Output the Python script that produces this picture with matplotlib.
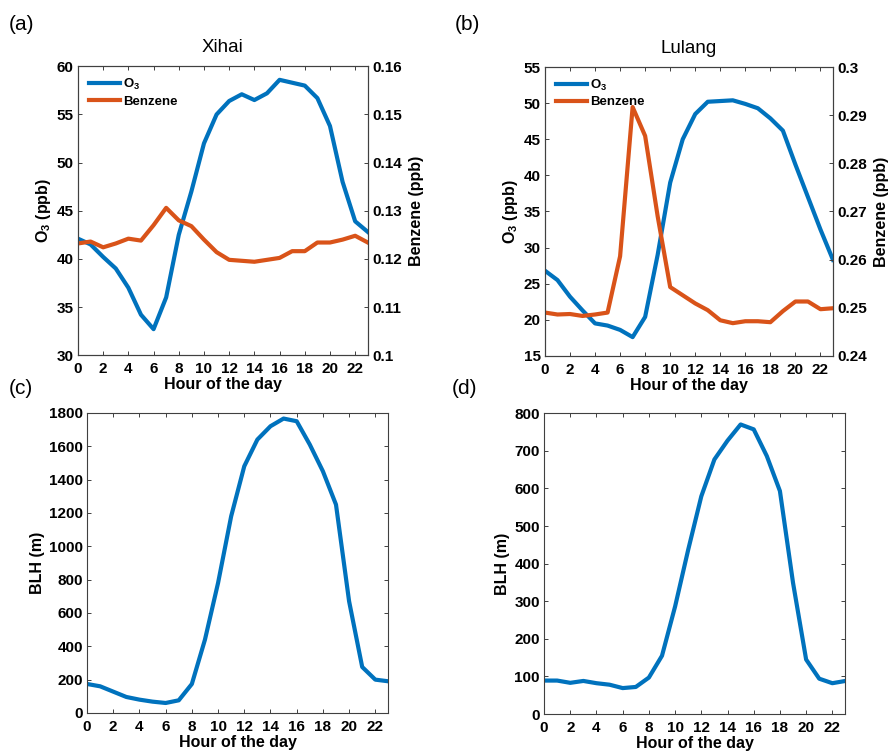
import matplotlib.pyplot as plt
import numpy as np

plt.rcParams['font.family'] = ['Liberation Sans', 'DejaVu Sans']
plt.rcParams['mathtext.fontset'] = 'custom'
plt.rcParams['mathtext.rm'] = 'Liberation Sans:bold'
plt.rcParams['mathtext.default'] = 'rm'

hours = np.arange(24)

o3_xihai = [42.1, 41.5, 40.2, 39.0, 37.0, 34.2, 32.7, 36.0, 42.5, 47.0, 52.0, 55.0,
            56.4, 57.1, 56.5, 57.2, 58.6, 58.3, 58.0, 56.7, 53.8, 48.0, 43.9, 42.8]
benzene_xihai = [0.1232, 0.1236, 0.1224, 0.1232, 0.1242, 0.1238, 0.1270, 0.1306,
                 0.1280, 0.1268, 0.1240, 0.1214, 0.1198, 0.1196, 0.1194, 0.1198,
                 0.1202, 0.1216, 0.1216, 0.1234, 0.1234, 0.1240, 0.1248, 0.1234]

o3_lulang = [26.8, 25.5, 23.2, 21.3, 19.5, 19.2, 18.6, 17.6, 20.4, 29.0, 39.0, 45.0,
             48.5, 50.2, 50.3, 50.4, 49.9, 49.3, 47.9, 46.2, 41.5, 37.0, 32.5, 28.3]
benzene_lulang = [0.2490, 0.2486, 0.2487, 0.2483, 0.2486, 0.2490, 0.2607, 0.2917,
                  0.2857, 0.2690, 0.2543, 0.2526, 0.2509, 0.2495, 0.2474, 0.2468,
                  0.2472, 0.2472, 0.2470, 0.2493, 0.2513, 0.2513, 0.2497, 0.2499]

blh_xihai = [174, 160, 128, 96, 80, 68, 60, 76, 174, 440, 780, 1180,
             1480, 1640, 1720, 1766, 1750, 1610, 1450, 1250, 670, 276, 200, 190]
blh_lulang = [89, 89, 83, 88, 82, 78, 69, 72, 97, 155, 286, 437,
              579, 677, 727, 770, 757, 686, 593, 349, 145, 94, 82, 88]

BLUE = '#0072BD'
ORANGE = '#D95319'
SPINE = '#404040'
TICK_FS = 11
LABEL_FS = 11.5


def style_axes(ax, right_ticks=True):
    for s in ax.spines.values():
        s.set_color(SPINE)
        s.set_linewidth(0.8)
    ax.tick_params(direction='in', length=3, width=0.7, color=SPINE,
                   top=True, right=right_ticks, labelsize=TICK_FS)
    ax.tick_params(axis='x', pad=5)
    ax.tick_params(axis='y', pad=3)
    for lab in ax.get_xticklabels() + ax.get_yticklabels():
        lab.set_fontweight('bold')
    ax.set_xlim(0, 23)
    ax.set_xticks(np.arange(0, 23, 2))
    ax.set_xlabel('Hour of the day', fontsize=LABEL_FS, fontweight='bold', labelpad=1)


def o3_panel(ax, o3, benz, ylim, yticks, blim, bticks, title):
    ax.plot(hours, o3, color=BLUE, lw=3, label='O$_3$')
    ax2 = ax.twinx()
    ax2.plot(hours, benz, color=ORANGE, lw=3, label='Benzene')
    ax.set_ylim(*ylim)
    ax.set_yticks(yticks)
    ax2.set_ylim(*blim)
    ax2.set_yticks(bticks)
    ax2.set_yticklabels([f'{b:g}' for b in bticks])
    style_axes(ax, right_ticks=False)
    ax2.tick_params(direction='in', length=3, width=0.7, color=SPINE,
                    labelsize=TICK_FS, pad=3)
    for lab in ax2.get_yticklabels():
        lab.set_fontweight('bold')
    for s in ax2.spines.values():
        s.set_color(SPINE)
        s.set_linewidth(0.8)
    ax.set_ylabel('O$_3$ (ppb)', fontsize=LABEL_FS, fontweight='bold', labelpad=3)
    ax2.set_ylabel('Benzene (ppb)', fontsize=LABEL_FS, fontweight='bold', labelpad=5)
    ax.set_title(title, fontsize=13.5, pad=10)
    h1, l1 = ax.get_legend_handles_labels()
    h2, l2 = ax2.get_legend_handles_labels()
    ax2.legend(h1 + h2, l1 + l2, loc='upper left', frameon=False,
               handlelength=2.4, handletextpad=0.2, labelspacing=0.25,
               borderaxespad=0.4, prop={'weight': 'bold', 'size': 9.5})
    return ax2


fig = plt.figure(figsize=(8.89, 7.54), dpi=100)

ax_a = fig.add_axes([0.0877, 0.529, 0.326, 0.383])
o3_panel(ax_a, o3_xihai, benzene_xihai, (30, 60), np.arange(30, 61, 5),
         (0.1, 0.16), [0.1, 0.11, 0.12, 0.13, 0.14, 0.15, 0.16], 'Xihai')

ax_b = fig.add_axes([0.613, 0.528, 0.324, 0.383])
o3_panel(ax_b, o3_lulang, benzene_lulang, (15, 55), np.arange(15, 56, 5),
         (0.24, 0.30), [0.24, 0.25, 0.26, 0.27, 0.28, 0.29, 0.3], 'Lulang')

ax_c = fig.add_axes([0.0979, 0.0544, 0.339, 0.398])
ax_c.plot(hours, blh_xihai, color=BLUE, lw=3)
ax_c.set_ylim(0, 1800)
ax_c.set_yticks(np.arange(0, 1801, 200))
style_axes(ax_c)
ax_c.set_ylabel('BLH (m)', fontsize=LABEL_FS, fontweight='bold', labelpad=3)

ax_d = fig.add_axes([0.612, 0.053, 0.339, 0.399])
ax_d.plot(hours, blh_lulang, color=BLUE, lw=3)
ax_d.set_ylim(0, 800)
ax_d.set_yticks(np.arange(0, 801, 100))
style_axes(ax_d)
ax_d.set_ylabel('BLH (m)', fontsize=LABEL_FS, fontweight='bold', labelpad=3)

for lbl, x, y in [('(a)', 0.010, 0.967), ('(b)', 0.511, 0.967),
                  ('(c)', 0.010, 0.485), ('(d)', 0.508, 0.485)]:
    fig.text(x, y, lbl, fontsize=15, ha='left', va='center')

fig.savefig('out.png', dpi=100)
